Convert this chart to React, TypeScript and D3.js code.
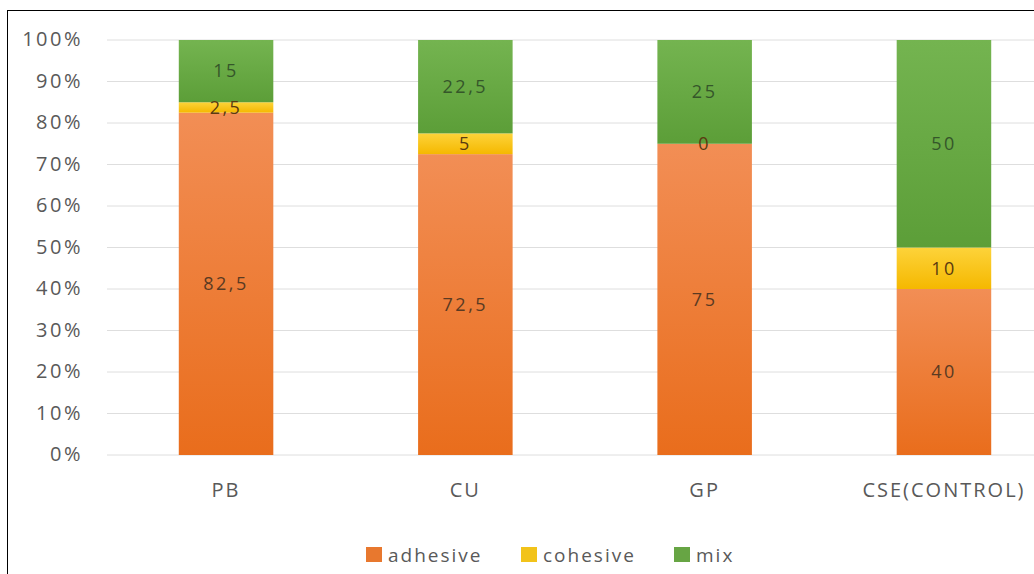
import React from 'react'
import * as d3 from 'd3'

const categories = ['PB', 'CU', 'GP', 'CSE(CONTROL)']
const seriesNames = ['adhesive', 'cohesive', 'mix']
const adhesive = [82.5, 72.5, 75, 40]
const cohesive = [2.5, 5, 0, 10]
const mix = [15, 22.5, 25, 50]
const yTicks = [0, 10, 20, 30, 40, 50, 60, 70, 80, 90, 100]

const colors = {
  adhesive: ['#f28e55', '#e96d1c'],
  cohesive: ['#fdd33a', '#f5b800'],
  mix: ['#74b450', '#5c9e38'],
}
const legendColors = ['#e8782e', '#f2c31a', '#67a544']
const labelColors = { adhesive: '#5a3a22', cohesive: '#5a3a10', mix: '#35562a' }

const width = 1034
const height = 574
const margin = { top: 40, left: 107, bottom: 119 }

export default function App() {
  const x = d3
    .scaleBand()
    .domain(categories)
    .range([margin.left, margin.left + 4 * 239])
    .paddingInner(0.605)
    .paddingOuter(0.3)
  const y = d3.scaleLinear().domain([0, 100]).range([height - margin.bottom, margin.top])

  const rows = categories.map((c, i) => ({ cat: c, adhesive: adhesive[i], cohesive: cohesive[i], mix: mix[i] }))
  const stacked = d3.stack<any>().keys(seriesNames)(rows)

  const font = '"Open Sans", "DejaVu Sans", sans-serif'

  // legend layout
  const legendItems = [
    { name: 'adhesive', x: 366 },
    { name: 'cohesive', x: 521 },
    { name: 'mix', x: 674 },
  ]

  return (
    <svg width={width} height={height} style={{ position: 'absolute', left: 0, top: 0 }}>
      <defs>
        {seriesNames.map((s) => (
          <linearGradient key={s} id={'g-' + s} x1="0" y1="0" x2="0" y2="1">
            <stop offset="0%" stopColor={colors[s][0]} />
            <stop offset="100%" stopColor={colors[s][1]} />
          </linearGradient>
        ))}
      </defs>
      <rect x={0} y={0} width={width} height={height} fill="#fff" />
      <rect x={7.5} y={10.5} width={width + 20} height={height + 20} fill="none" stroke="#000" strokeWidth={1} />

      {yTicks.map((t) => (
        <g key={t}>
          <line x1={margin.left} x2={width} y1={y(t)} y2={y(t)} stroke="#dedede" strokeWidth={1} />
          <text
            x={83}
            y={y(t)}
            dy="0.3em"
            textAnchor="end"
            fontFamily={font}
            fontSize={20}
            letterSpacing={2.5}
            fill="#595959"
          >
            {t + '%'}
          </text>
        </g>
      ))}

      {stacked.map((layer) => (
        <g key={layer.key}>
          {layer.map((d, i) => {
            const x0 = x(categories[i])!
            const y0 = y(d[1])
            const h = y(d[0]) - y(d[1])
            return <rect key={i} x={x0} y={y0} width={x.bandwidth()} height={h} fill={`url(#g-${layer.key})`} />
          })}
        </g>
      ))}

      {stacked.map((layer) => (
        <g key={'l-' + layer.key}>
          {layer.map((d, i) => {
            const v = d[1] - d[0]
            const cx = x(categories[i])! + x.bandwidth() / 2
            const cy = (y(d[0]) + y(d[1])) / 2
            return (
              <text
                key={i}
                x={cx}
                y={cy}
                dy="0.35em"
                textAnchor="middle"
                fontFamily={font}
                fontSize={18}
                letterSpacing={2.5}
                fill={labelColors[layer.key]}
              >
                {String(v).replace('.', ',')}
              </text>
            )
          })}
        </g>
      ))}

      {categories.map((c) => (
        <text
          key={c}
          x={x(c)! + x.bandwidth() / 2}
          y={497}
          textAnchor="middle"
          fontFamily={font}
          fontSize={20}
          letterSpacing={2}
          fill="#595959"
        >
          {c}
        </text>
      ))}

      {legendItems.map((l, i) => (
        <g key={l.name}>
          <rect x={l.x} y={547} width={16} height={15} fill={legendColors[i]} />
          <text x={l.x + 22} y={562} fontFamily={font} fontSize={19} letterSpacing={2} fill="#595959">
            {l.name}
          </text>
        </g>
      ))}
    </svg>
  )
}
